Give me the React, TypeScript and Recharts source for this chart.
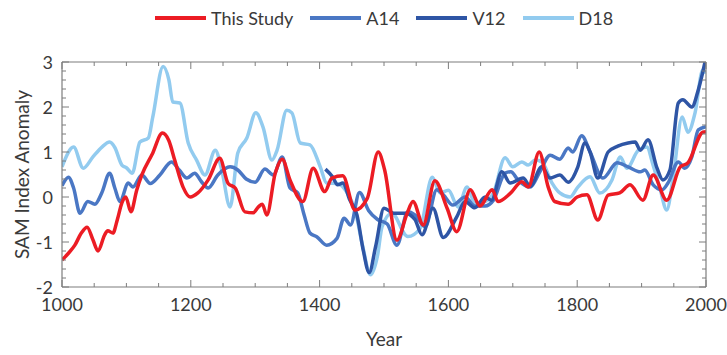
import React from 'react';
import { LineChart, Line, XAxis, YAxis } from 'recharts';

const FONT = 'Lato, "Open Sans", sans-serif';
const TEXT = '#3a3a3a';
const AXIS = '#7d7d7d';

const xMajorTicks = [1000, 1200, 1400, 1600, 1800, 2000];
const xAllTicks = [1000, 1050, 1100, 1150, 1200, 1250, 1300, 1350, 1400, 1450, 1500, 1550, 1600, 1650, 1700, 1750, 1800, 1850, 1900, 1950, 2000];
const yMajorTicks = [-2, -1, 0, 1, 2, 3];
const yAllTicks = [-2, -1.8, -1.6, -1.4, -1.2, -1, -0.8, -0.6, -0.4, -0.2, 0, 0.2, 0.4, 0.6, 0.8, 1, 1.2, 1.4, 1.6, 1.8, 2, 2.2, 2.4, 2.6, 2.8, 3];

const seriesNames = ['This Study', 'A14', 'V12', 'D18'];
const seriesColors = ['#ec1c24', '#4a77c4', '#2e55a5', '#92cbef'];

const studyYears = [1000, 1010, 1020, 1030, 1039, 1048, 1056, 1066, 1071, 1079, 1086, 1093, 1099, 1107, 1116, 1124, 1140, 1156, 1166, 1175, 1188, 1199, 1211, 1227, 1245, 1258, 1269, 1284, 1297, 1305, 1311, 1318, 1331, 1342, 1354, 1374, 1390, 1408, 1419, 1436, 1455, 1474, 1491, 1501, 1520, 1536, 1545, 1561, 1579, 1598, 1613, 1634, 1649, 1668, 1677, 1696, 1714, 1724, 1741, 1755, 1765, 1786, 1800, 1815, 1832, 1848, 1866, 1882, 1902, 1918, 1939, 1960, 1972, 1995, 2000];
const studyValues = [-1.4, -1.25, -1.07, -0.8, -0.67, -0.95, -1.2, -0.85, -0.75, -0.8, -0.5, -0.13, 0.0, -0.33, 0.15, 0.49, 0.95, 1.42, 1.25, 0.82, 0.22, 0.0, 0.09, 0.38, 0.86, 0.3, 0.2, -0.33, -0.35, -0.22, -0.16, -0.4, 0.52, 0.84, 0.38, -0.1, 0.64, 0.12, 0.42, 0.47, -0.29, -0.03, 1.0, 0.6, -0.96, -0.36, -0.1, -0.62, 0.36, -0.25, -0.77, 0.16, -0.2, 0.16, -0.1, 0.08, 0.34, 0.22, 1.0, 0.22, -0.1, -0.16, 0.0, 0.05, -0.51, 0.04, 0.09, 0.27, -0.07, 0.49, -0.07, 0.67, 0.76, 1.44, 1.45];

const a14Years = [1000, 1010, 1018, 1028, 1040, 1051, 1062, 1074, 1082, 1090, 1103, 1110, 1124, 1137, 1152, 1170, 1182, 1194, 1206, 1216, 1227, 1242, 1261, 1273, 1286, 1300, 1315, 1328, 1342, 1354, 1366, 1376, 1385, 1396, 1411, 1427, 1438, 1448, 1462, 1476, 1490, 1505, 1520, 1537, 1548, 1564, 1582, 1592, 1607, 1626, 1641, 1657, 1670, 1688, 1697, 1708, 1727, 1742, 1758, 1773, 1786, 1793, 1807, 1820, 1840, 1862, 1879, 1898, 1905, 1918, 1932, 1941, 1957, 1967, 1978, 1988, 2000];
const a14Values = [0.25, 0.44, 0.2, -0.36, -0.1, -0.16, 0.1, 0.53, 0.2, -0.1, 0.31, 0.22, 0.49, 0.3, 0.49, 0.78, 0.6, 0.42, 0.53, 0.35, 0.2, 0.49, 0.67, 0.6, 0.4, 0.33, 0.62, 0.49, 0.89, 0.2, 0.09, -0.4, -0.8, -0.89, -1.07, -0.92, -0.47, -0.62, 0.1, -0.3, -0.5, -0.6, -1.07, -0.33, -0.4, -0.66, 0.16, 0.05, -0.18, 0.0, -0.2, -0.2, -0.07, 0.53, 0.56, 0.38, 0.22, 0.56, 0.93, 0.84, 1.09, 1.0, 1.36, 1.0, 0.42, 0.76, 0.67, 0.56, 0.6, 0.27, 0.16, 0.31, 0.78, 0.64, 0.89, 1.49, 1.56];

const v12Years = [1409, 1420, 1428, 1436, 1447, 1458, 1468, 1477, 1487, 1500, 1515, 1533, 1548, 1559, 1576, 1592, 1613, 1626, 1641, 1657, 1667, 1683, 1696, 1716, 1727, 1745, 1758, 1773, 1786, 1801, 1812, 1820, 1832, 1848, 1863, 1879, 1890, 1898, 1910, 1924, 1933, 1944, 1957, 1964, 1978, 1988, 2000];
const v12Values = [0.62, 0.45, 0.27, 0.31, -0.07, -0.4, -1.2, -1.68, -1.1, -0.25, -0.36, -0.36, -0.5, -0.84, -0.25, -0.9, -0.44, -0.1, -0.24, 0.0, -0.07, 0.56, 0.31, 0.42, 0.24, 0.67, 0.42, 0.49, 0.33, 0.67, 1.2, 1.0, 0.42, 1.0, 1.13, 1.2, 1.22, 1.04, 1.27, 0.64, 0.38, 0.6, 2.09, 2.16, 2.0, 2.38, 3.1];

const d18Years = [1000, 1018, 1033, 1048, 1062, 1074, 1082, 1093, 1100, 1109, 1121, 1134, 1141, 1157, 1166, 1172, 1183, 1196, 1209, 1222, 1238, 1248, 1261, 1273, 1287, 1301, 1312, 1326, 1334, 1349, 1357, 1370, 1385, 1401, 1411, 1427, 1443, 1455, 1467, 1479, 1490, 1497, 1512, 1537, 1556, 1575, 1587, 1600, 1615, 1629, 1641, 1657, 1670, 1688, 1700, 1714, 1724, 1735, 1745, 1761, 1773, 1789, 1801, 1820, 1835, 1854, 1867, 1877, 1895, 1908, 1918, 1929, 1939, 1949, 1963, 1972, 1983, 1995, 2000];
const d18Values = [0.67, 1.11, 0.64, 0.89, 1.11, 1.22, 1.1, 0.71, 0.65, 0.53, 1.22, 1.31, 1.78, 2.9, 2.6, 2.11, 2.09, 1.2, 0.82, 0.49, 1.04, 0.6, -0.22, 0.98, 1.31, 1.87, 1.56, 0.82, 1.04, 1.93, 1.87, 1.2, 1.16, 0.67, 0.31, 0.3, 0.09, -0.29, -1.1, -1.73, -1.3, -0.66, -0.36, -0.88, -0.7, 0.44, 0.09, 0.15, -0.22, 0.22, -0.13, -0.1, 0.09, 0.87, 0.67, 0.78, 0.71, 0.82, 0.78, 0.31, 0.09, 0.0, 0.22, 0.45, 0.09, 0.38, 0.89, 0.64, 1.04, 1.11, 0.7, 0.16, -0.29, 0.44, 1.78, 1.44, 1.87, 2.82, 2.75];

const toPoints = (years: number[], values: number[]) =>
  years.map((year, i) => ({ year, value: values[i] }));

const seriesData = [
  toPoints(studyYears, studyValues),
  toPoints(a14Years, a14Values),
  toPoints(v12Years, v12Values),
  toPoints(d18Years, d18Values),
];

// draw order: D18, A14, V12, This Study (on top)
const drawOrder = [3, 1, 2, 0];

const isMajor = (v: number, majors: number[]) => majors.some((m) => Math.abs(m - v) < 1e-6);

const BottomTick = (props: any) => {
  const { x, y, payload } = props;
  const major = isMajor(payload.value, xMajorTicks);
  return (
    <g>
      <line x1={x} x2={x} y1={y} y2={y - (major ? 7 : 4)} stroke={AXIS} strokeWidth={1} />
      {major && (
        <text x={x} y={y + 24} textAnchor="middle" fill={TEXT} fontSize={18} fontFamily={FONT}>
          {payload.value}
        </text>
      )}
    </g>
  );
};

const TopTick = (props: any) => {
  const { x, y, payload } = props;
  const major = isMajor(payload.value, xMajorTicks);
  return <line x1={x} x2={x} y1={y} y2={y + (major ? 7 : 4)} stroke={AXIS} strokeWidth={1} />;
};

const LeftTick = (props: any) => {
  const { x, y, payload } = props;
  const major = isMajor(payload.value, yMajorTicks);
  return (
    <g>
      <line x1={x} x2={x + (major ? 7 : 4)} y1={y} y2={y} stroke={AXIS} strokeWidth={1} />
      {major && (
        <text x={x - 9} y={y} textAnchor="end" dominantBaseline="central" fill={TEXT} fontSize={18} fontFamily={FONT}>
          {payload.value}
        </text>
      )}
    </g>
  );
};

const RightTick = (props: any) => {
  const { x, y, payload } = props;
  const major = isMajor(payload.value, yMajorTicks);
  return <line x1={x} x2={x - (major ? 7 : 4)} y1={y} y2={y} stroke={AXIS} strokeWidth={1} />;
};

const LegendBar = () => (
  <div
    style={{
      position: 'absolute',
      left: 62,
      top: 5,
      width: 644,
      display: 'flex',
      justifyContent: 'center',
      alignItems: 'center',
      gap: 17,
      fontFamily: FONT,
      fontSize: 18,
      color: TEXT,
      lineHeight: '26px',
    }}
  >
    {seriesNames.map((name, i) => (
      <div key={name} style={{ display: 'flex', alignItems: 'center' }}>
        <div style={{ width: 51, height: 4, background: seriesColors[i], marginRight: 5 }} />
        <span>{name}</span>
      </div>
    ))}
  </div>
);

export default function App() {
  return (
    <div style={{ position: 'absolute', left: 0, top: 0, width: 727, height: 355, background: '#ffffff' }}>
      <LineChart width={727} height={355} margin={{ top: 61, right: 20, bottom: 0, left: 22 }}>
        <XAxis
          xAxisId="bottom"
          type="number"
          dataKey="year"
          domain={[1000, 2000]}
          ticks={xAllTicks}
          interval={0}
          allowDataOverflow
          height={68}
          tickLine={false}
          tickSize={0}
          tickMargin={0}
          tick={<BottomTick />}
          axisLine={{ stroke: AXIS, strokeWidth: 1.2 }}
          label={{ value: 'Year', position: 'insideBottom', offset: 9, fill: TEXT, fontSize: 19, fontFamily: FONT }}
        />
        <XAxis
          xAxisId="top"
          orientation="top"
          type="number"
          dataKey="year"
          domain={[1000, 2000]}
          ticks={xAllTicks}
          interval={0}
          allowDataOverflow
          height={1}
          tickLine={false}
          tickSize={0}
          tickMargin={0}
          tick={<TopTick />}
          axisLine={{ stroke: AXIS, strokeWidth: 1.2 }}
        />
        <YAxis
          yAxisId="left"
          type="number"
          domain={[-2, 3]}
          ticks={yAllTicks}
          interval={0}
          allowDataOverflow
          width={40}
          tickLine={false}
          tickSize={0}
          tickMargin={0}
          tick={<LeftTick />}
          axisLine={{ stroke: AXIS, strokeWidth: 1.2 }}
          label={{
            value: 'SAM Index Anomaly',
            angle: -90,
            position: 'insideLeft',
            offset: 0,
            fill: TEXT,
            fontSize: 19,
            fontFamily: FONT,
            style: { textAnchor: 'middle' },
          }}
        />
        <YAxis
          yAxisId="right"
          orientation="right"
          type="number"
          domain={[-2, 3]}
          ticks={yAllTicks}
          interval={0}
          allowDataOverflow
          width={1}
          tickLine={false}
          tickSize={0}
          tickMargin={0}
          tick={<RightTick />}
          axisLine={{ stroke: AXIS, strokeWidth: 1.2 }}
        />
        {drawOrder.map((i) => (
          <Line
            key={seriesNames[i]}
            data={seriesData[i]}
            xAxisId="bottom"
            yAxisId="left"
            dataKey="value"
            name={seriesNames[i]}
            type="monotone"
            stroke={seriesColors[i]}
            strokeWidth={3.5}
            dot={false}
            activeDot={false}
            isAnimationActive={false}
          />
        ))}
      </LineChart>
      <LegendBar />
    </div>
  );
}
